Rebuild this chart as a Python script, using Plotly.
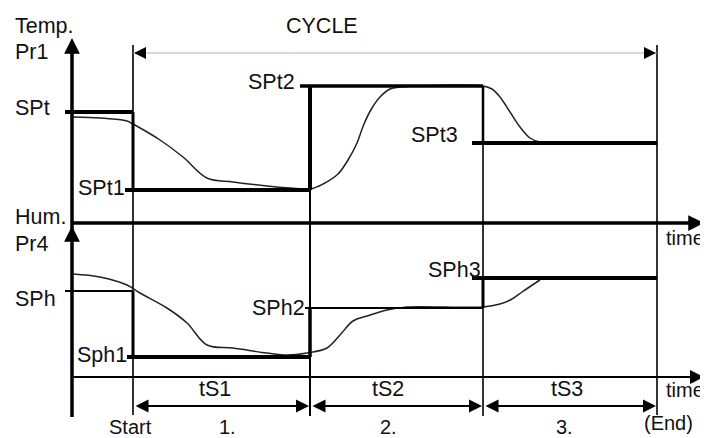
import plotly.graph_objects as go

# ---- data (chart units: x = time position, y = value; y grows upward) ----
time_marks = [133, 310, 483, 657]          # Start, end step1, end step2, End
axis_x0 = 72
temp_time_axis_y = 215
hum_time_axis_y = 61

temp_sp_labels = ["SPt", "SPt1", "SPt2", "SPt3"]
temp_sp_values = [326, 248, 352, 295]
hum_sp_labels = ["SPh", "Sph1", "SPh2", "SPh3"]
hum_sp_values = [147, 81, 130, 160]

temp_pv_t = [73, 100, 127, 133, 160, 183, 207, 233, 267, 290, 310, 323, 338, 348, 357, 364,
             372, 380, 390, 400, 483, 492, 500, 510, 520, 530, 540, 560, 653]
temp_pv_y = [321, 320, 317, 314, 298, 281, 260, 256, 252, 250, 249, 254, 264, 278, 295, 314,
             330, 341, 349, 351, 352, 349, 341, 326, 311, 300, 296, 295, 296]

hum_pv_t = [73, 100, 127, 140, 167, 187, 207, 233, 267, 287, 307, 327, 340, 353, 367, 387,
            407, 483, 500, 512, 522, 540]
hum_pv_y = [164, 161, 153, 145, 130, 115, 93, 90, 85, 83, 85, 90, 103, 117, 122, 128,
            131, 131, 134, 139, 146, 158]

step_labels = ["tS1", "tS2", "tS3"]
step_numbers = ["1.", "2.", "3."]

FONT = dict(family="Liberation Sans, Arial, sans-serif", size=21.5, color="#111111")
INK = "#000000"

fig = go.Figure()


def seg(x0, x1, y0, y1, w, color=INK):
    fig.add_trace(go.Scatter(x=[x0, x1], y=[y0, y1], mode="lines",
                             line=dict(color=color, width=w), hoverinfo="skip",
                             showlegend=False))


# boundary verticals
seg(time_marks[0], time_marks[0], 23, 393, 1.6)
seg(time_marks[1], time_marks[1], 22, temp_sp_values[2], 2)
seg(time_marks[2], time_marks[2], 22, temp_sp_values[2], 1.6)
seg(time_marks[3], time_marks[3], 23, 393, 1.6)

# time axes
seg(axis_x0, 698, temp_time_axis_y, temp_time_axis_y, 3.5)
seg(axis_x0, 698, hum_time_axis_y, hum_time_axis_y, 2)

# process curves
fig.add_trace(go.Scatter(x=temp_pv_t, y=temp_pv_y, mode="lines", line=dict(color="#222", width=1.5),
                         line_shape="spline", hoverinfo="skip", showlegend=False))
fig.add_trace(go.Scatter(x=hum_pv_t, y=hum_pv_y, mode="lines", line=dict(color="#222", width=1.5),
                         line_shape="spline", hoverinfo="skip", showlegend=False))

# temperature setpoint profile
t = time_marks
T = temp_sp_values
seg(65, t[0], T[0], T[0], 4)
seg(t[0], t[0], T[0], T[1], 3)
seg(t[0] - 8, t[1], T[1], T[1], 4)
seg(t[1], t[1], T[1], T[2], 4)
seg(t[1] - 10, t[2], T[2], T[2], 3.5)
seg(t[2], t[2], T[2], T[3], 2.5)
seg(t[2] - 11, t[3], T[3], T[3], 4)

# humidity setpoint profile
H = hum_sp_values
seg(65, t[0], H[0], H[0], 2.2)
seg(t[0], t[0], H[0], H[1], 3)
seg(t[0] - 6, t[1], H[1], H[1], 4)
seg(t[1], t[1], H[1], H[2], 3.5)
seg(t[1] - 5, t[2], H[2], H[2], 2)
seg(t[2], t[2], H[2], H[3], 3)
seg(t[2] - 11, t[3], H[3], H[3], 4)

# left axis line
seg(axis_x0, axis_x0, 21, 390, 3.5)


def arrow(x, y, ax, ay, w, head=2, size=1.0, color=INK, both=False):
    fig.add_annotation(x=x, y=y, ax=ax, ay=ay, xref="x", yref="y", axref="x", ayref="y",
                       text="", showarrow=True, arrowhead=head, arrowsize=size,
                       arrowwidth=w, arrowcolor=color,
                       arrowside="end+start" if both else "end",
                       startarrowhead=head, startarrowsize=size)


# axis arrowheads
arrow(axis_x0, 400, axis_x0, 385, 3.5, size=0.9)
arrow(axis_x0, 212, axis_x0, 200, 3.5, size=0.9)
arrow(704, temp_time_axis_y, 690, temp_time_axis_y, 3.5, size=0.9)
arrow(704, hum_time_axis_y, 690, hum_time_axis_y, 2, size=1.4)

# CYCLE dimension line
seg(t[0], t[3], 385, 385, 1, color="#b0b0b0")
arrow(t[0] + 1, 385, t[0] + 8, 385, 2, size=1.2)
arrow(t[3] - 1, 385, t[3] - 8, 385, 2, size=1.2)

# step dimension arrows
for i in range(3):
    arrow(t[i + 1] - 1, 32, t[i] + 1, 32, 2, size=1.3, both=True)


def label(txt, x, y, xa="center", size=None):
    f = dict(FONT)
    if size:
        f["size"] = size
    fig.add_annotation(x=x, y=y, xref="x", yref="y", text=txt, showarrow=False,
                       xanchor=xa, yanchor="middle", font=f)


label("Temp.", 13, 412, "left")
label("Pr1", 13, 386, "left")
label(temp_sp_labels[0], 13, 330, "left")
label(temp_sp_labels[1], 127, 250, "right")
label(temp_sp_labels[2], 297, 356, "right")
label(temp_sp_labels[3], 460, 303, "right")
label("CYCLE", 322, 412)
label("Hum.", 13, 221, "left")
label("Pr4", 13, 194, "left")
label(hum_sp_labels[0], 13, 139, "left")
label(hum_sp_labels[1], 129, 83, "right")
label(hum_sp_labels[2], 307, 130, "right")
label(hum_sp_labels[3], 483, 168, "right")
label("time", 664, 200, "left", 20)
label("time", 664, 48, "left", 20)
for i in range(3):
    label(step_labels[i], (t[i] + t[i + 1]) / 2 + [-7, -9, -3][i], 49)
label("Start", 130, 11, size=20)
for i, xc in enumerate([227, 388, 564]):
    label(step_numbers[i], xc, 11, size=20)
label("(End)", 668, 15, size=20)

# the page body adds an 8px offset; shift the ranges to compensate
fig.update_layout(width=708, height=438, margin=dict(l=0, r=0, t=0, b=0),
                  paper_bgcolor="white", plot_bgcolor="white",
                  xaxis=dict(range=[8, 716], visible=False, fixedrange=True),
                  yaxis=dict(range=[-8, 430], visible=False, fixedrange=True),
                  showlegend=False)

fig.write_html("out.html")
